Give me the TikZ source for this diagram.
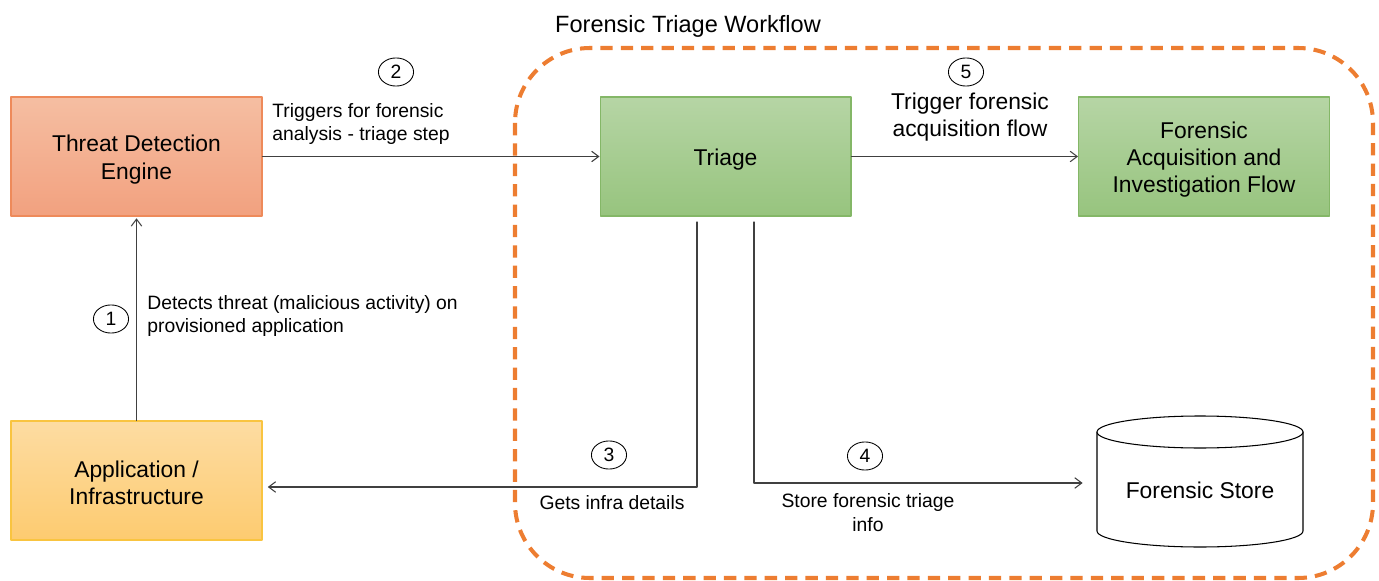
\documentclass[tikz,border=0pt]{standalone}
\usepackage{fontspec}
\setmainfont{Liberation Sans}
\usetikzlibrary{arrows.meta,shapes.geometric}

\definecolor{threattop}{HTML}{F5BEA2}
\definecolor{threatbot}{HTML}{F2A17F}
\definecolor{threatline}{HTML}{EE8A5A}
\definecolor{apptop}{HTML}{FDDCA2}
\definecolor{appbot}{HTML}{FDCB70}
\definecolor{appline}{HTML}{F9C440}
\definecolor{greentop}{HTML}{B6D5A5}
\definecolor{greenbot}{HTML}{97C47E}
\definecolor{greenline}{HTML}{84B767}
\definecolor{flowline}{HTML}{ED7D31}
\definecolor{connline}{HTML}{404040}

\tikzset{
  box/.style={draw, line width=0.6pt, minimum width=5.02cm, minimum height=2.38cm},
  boxtext/.style={inner sep=0pt, align=center, font=\fontsize{13}{15.5}\selectfont},
  threatbox/.style={box, top color=threattop, bottom color=threatbot, draw=threatline},
  appbox/.style={box, top color=apptop, bottom color=appbot, draw=appline},
  greenbox/.style={box, top color=greentop, bottom color=greenbot, draw=greenline},
  conn/.style={draw=connline, line width=0.6pt, -{Straight Barb[length=4pt,width=6pt]}},
  stepnum/.style={ellipse, draw=black, line width=0.5pt, inner sep=0pt,
    minimum width=20pt, minimum height=16pt, font=\fontsize{11}{13}\selectfont},
  note/.style={inner sep=0pt, font=\fontsize{11}{13.6}\selectfont},
}

\begin{document}
\begin{tikzpicture}[x=0.02cm, y=0.02cm, line cap=round, line join=round]

% Picture frame
\useasboundingbox (0,0) rectangle (1379,-581);

% Dashed frame of the triage workflow
\draw[flowline, line width=2.3pt, dash pattern=on 7pt off 4.6pt, line cap=butt,
  rounded corners=1.5cm] (515,-48) rectangle (1373,-578);
\node[inner sep=0pt, font=\fontsize{13.4}{16}\selectfont] (title) at (688,-26) {Forensic Triage Workflow};

% Main boxes
\node[threatbox] (threat) at (136.5,-156.5) {};
\node[appbox] (app) at (136.5,-480.5) {};
\node[greenbox] (triage) at (725.5,-156.5) {};
\node[greenbox] (acq) at (1204,-156.5) {};

% Box texts, set a little below the centres
\node[boxtext] (threattext) at ([yshift=-1.8pt]threat.center) {Threat Detection\\Engine};
\node[boxtext] (apptext) at ([yshift=-1.2pt]app.center) {Application /\\Infrastructure};
\node[boxtext] (triagetext) at ([yshift=-2pt]triage.center) {Triage};
\node[boxtext] (acqtext) at ([yshift=-1.8pt]acq.center) {Forensic\\Acquisition and\\Investigation Flow};

% Forensic store (cylinder)
\node[minimum width=4.12cm, minimum height=2.3cm, font=\fontsize{13}{15.5}\selectfont,
  inner sep=0pt] (store) at (1200,-490) {Forensic Store};
\draw[line width=0.6pt] (1097,-432) -- (1097,-531) arc (180:360:103 and 16) -- (1303,-432);
\draw[line width=0.6pt, fill=white] (1200,-432) ellipse (103 and 16);

% Bends of the lower connectors
\coordinate (t3) at (697,-222);
\coordinate (b3) at (697,-487);
\coordinate (t4) at (754,-222);
\coordinate (b4) at (754,-483);

% Connectors
\draw[conn, shorten >=1pt] (app.north) -- (threat.south);   % step 1
\draw[conn] (threat) -- (triage);                            % step 2
\draw[conn, shorten >=3pt] (t3) -- (b3) -- (b3 -| app.east); % step 3
\draw[conn, shorten >=8pt] (t4) -- (b4) -- (b4 -| store.west); % step 4
\draw[conn] (triage) -- (acq);                               % step 5

% Step numbers
\node[stepnum] (n1) at (111,-319) {1};
\node[stepnum] (n2) at (396,-72) {2};
\node[stepnum] (n3) at (609,-455) {3};
\node[stepnum] (n4) at (865,-456) {4};
\node[stepnum] (n5) at (966,-72) {5};

% Step labels
\node[note, anchor=west, align=left] (l1) at (147,-316) {Detects threat (malicious activity) on\\provisioned application};
\node[note, anchor=west, align=left] (l2) at (272,-124) {Triggers for forensic\\analysis - triage step};
\node[note] (l3) at (612,-503) {Gets infra details};
\node[note, align=center] (l4) at (868,-513) {Store forensic triage\\info};
\node[inner sep=0pt, align=center, font=\fontsize{13}{15.5}\selectfont] (l5) at (970,-117) {Trigger forensic\\acquisition flow};

\end{tikzpicture}
\end{document}
